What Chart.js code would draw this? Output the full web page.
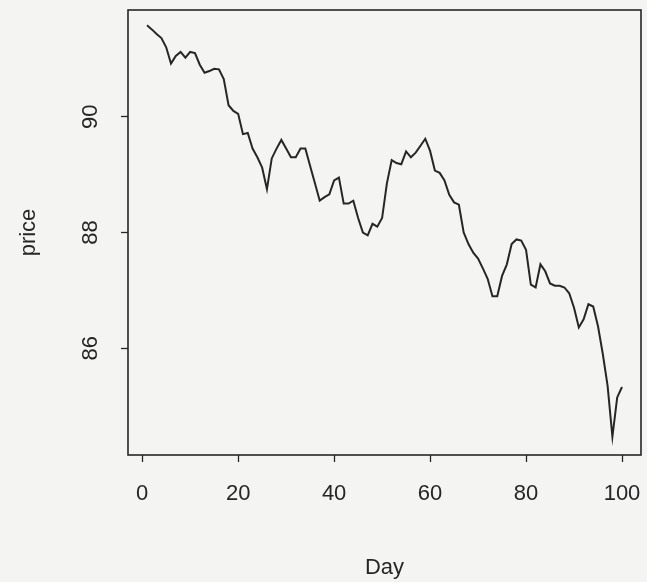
<!DOCTYPE html>
<html>
<head>
  <title>price by Day</title>
  <script src="https://cdn.jsdelivr.net/npm/chart.js"></script>
  <style>
    body { margin: 0; background: #f4f4f2; }
  </style>
</head>
<body>
  <canvas id="priceChart" width="647" height="582"></canvas>

  <script>
    // values
    const days = [
      1, 2, 3, 4, 5, 6, 7, 8, 9, 10, 11, 12, 13, 14, 15, 16, 17, 18, 19, 20,
      21, 22, 23, 24, 25, 26, 27, 28, 29, 30, 31, 32, 33, 34, 35, 36, 37, 38, 39, 40,
      41, 42, 43, 44, 45, 46, 47, 48, 49, 50, 51, 52, 53, 54, 55, 56, 57, 58, 59, 60,
      61, 62, 63, 64, 65, 66, 67, 68, 69, 70, 71, 72, 73, 74, 75, 76, 77, 78, 79, 80,
      81, 82, 83, 84, 85, 86, 87, 88, 89, 90, 91, 92, 93, 94, 95, 96, 97, 98, 99, 100
    ];
    const price = [
      91.58, 91.51, 91.43, 91.36, 91.20, 90.92, 91.05, 91.12, 91.02, 91.12,
      91.10, 90.90, 90.76, 90.79, 90.83, 90.82, 90.65, 90.20, 90.10, 90.05,
      89.70, 89.72, 89.45, 89.30, 89.12, 88.75, 89.28, 89.45, 89.60, 89.45,
      89.30, 89.30, 89.45, 89.45, 89.15, 88.85, 88.55, 88.61, 88.66, 88.90,
      88.95, 88.50, 88.50, 88.55, 88.25, 88.00, 87.95, 88.15, 88.10, 88.25,
      88.85, 89.25, 89.20, 89.18, 89.40, 89.30, 89.38, 89.50, 89.62, 89.41,
      89.07, 89.03, 88.90, 88.65, 88.52, 88.48, 88.00, 87.80, 87.65, 87.55,
      87.38, 87.20, 86.90, 86.90, 87.25, 87.45, 87.80, 87.88, 87.86, 87.70,
      87.10, 87.05, 87.45, 87.33, 87.12, 87.08, 87.08, 87.05, 86.95, 86.70,
      86.36, 86.50, 86.76, 86.72, 86.38, 85.90, 85.35, 84.47, 85.15, 85.33
    ];
    const xTicks = [0, 20, 40, 60, 80, 100];
    const yTicks = [86, 88, 90];

    const ink = '#262626';
    const font = { family: '"Liberation Sans", Arial, sans-serif', size: 22 };

    // draws the R style box round the plot region
    const boxPlugin = {
      id: 'box',
      afterDraw(chart) {
        const { ctx, chartArea: a } = chart;
        ctx.save();
        ctx.strokeStyle = ink;
        ctx.lineWidth = 1.6;
        ctx.strokeRect(a.left, a.top, a.right - a.left, a.bottom - a.top);
        ctx.restore();
      }
    };

    new Chart(document.getElementById('priceChart'), {
      type: 'line',
      data: {
        datasets: [{
          data: days.map((d, i) => ({ x: d, y: price[i] })),
          borderColor: ink,
          borderWidth: 2,
          pointRadius: 0,
          tension: 0
        }]
      },
      options: {
        responsive: false,
        animation: false,
        layout: { padding: { top: 10, right: 6 } },
        plugins: { legend: { display: false }, tooltip: { enabled: false } },
        scales: {
          x: {
            type: 'linear',
            min: -2.96,
            max: 103.96,
            afterBuildTicks: s => { s.ticks = xTicks.map(v => ({ value: v })); },
            afterFit: s => { s.height = 127; s.paddingLeft = 0; s.paddingRight = 0; },
            grid: { drawOnChartArea: false, tickLength: 7, tickColor: ink, tickWidth: 1.3 },
            border: { display: false },
            ticks: { color: ink, font: font, padding: 19, maxRotation: 0 },
            title: { display: true, text: 'Day', color: ink, font: font, padding: { bottom: 1 } }
          },
          y: {
            min: 84.155,
            max: 91.845,
            afterBuildTicks: s => { s.ticks = yTicks.map(v => ({ value: v })); },
            afterFit: s => { s.width = 128; s.paddingTop = 0; s.paddingBottom = 0; },
            grid: { drawOnChartArea: false, tickLength: 7, tickColor: ink, tickWidth: 1.3 },
            border: { display: false },
            ticks: { color: ink, font: font, padding: 18, minRotation: 90, maxRotation: 90, crossAlign: 'center' },
            title: { display: true, text: 'price', color: ink, font: font, padding: { top: 16 } }
          }
        }
      },
      plugins: [boxPlugin]
    });
  </script>
</body>
</html>
